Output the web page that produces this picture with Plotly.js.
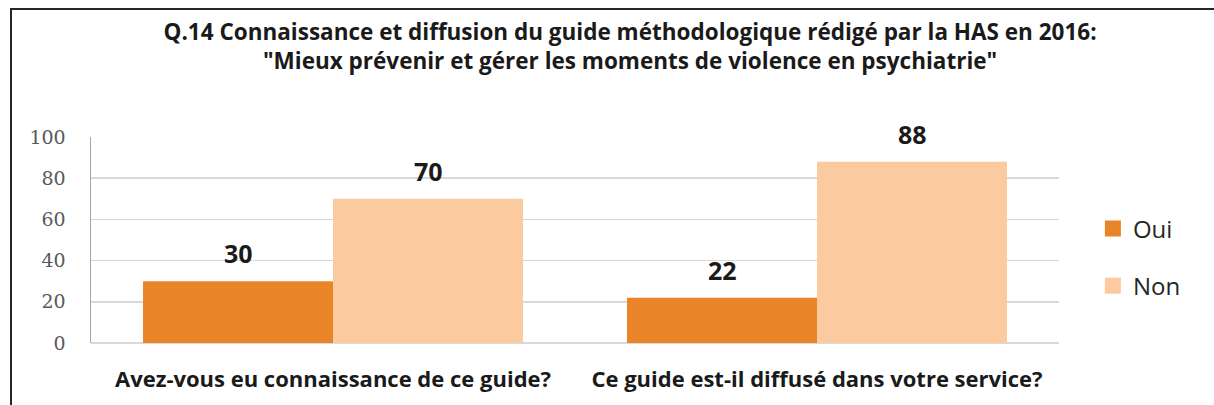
<!DOCTYPE html>
<html>
<head>
<meta charset="utf-8">
<script src="https://cdn.plot.ly/plotly-3.0.1.min.js"></script>
<style>
  html, body { margin: 0; padding: 0; background: #fff; }
  #wrap { position: relative; width: 1214px; height: 405px; overflow: hidden; }
  #chart { position: absolute; left: 0; top: 0; width: 1214px; height: 405px; }
  #frame { position: absolute; left: 10px; top: 8px; width: 1230px; height: 420px;
           border-top: 2px solid #262626; border-left: 2px solid #262626; pointer-events: none; }
</style>
</head>
<body>
<div id="wrap">
  <div id="chart"></div>
  <div id="frame"></div>
</div>
<script>
const categories = ["Avez-vous eu connaissance de ce guide?", "Ce guide est-il diffusé dans votre service?"];
const seriesNames = ["Oui", "Non"];
const ouiValues = [30, 22];
const nonValues = [70, 88];
const yTicks = [0, 20, 40, 60, 80, 100];
const colors = ["#EA8428", "#FBCA9F"];

const titleText = "Q.14 Connaissance et diffusion du guide méthodologique rédigé par la HAS en 2016:<br>\"Mieux prévenir et gérer les moments de violence en psychiatrie\"";

const allValues = [ouiValues, nonValues];
const traces = allValues.map((vals, i) => ({
  type: "bar",
  name: seriesNames[i],
  x: categories,
  y: vals,
  marker: { color: colors[i], line: { width: 0 } },
  showlegend: false,
  hoverinfo: "skip"
}));
// legend entries (square markers)
seriesNames.forEach((n, i) => {
  traces.push({
    type: "scatter", mode: "markers", name: n,
    x: [null], y: [null],
    marker: { symbol: "square", size: 17, color: colors[i] },
    legendgroup: "g" + i, showlegend: true, hoverinfo: "skip"
  });
});

const annotations = [];
allValues.forEach((vals, i) => {
  vals.forEach((v, j) => {
    annotations.push({
      x: categories[j], y: v, xref: "x", yref: "y",
      xshift: (i === 0 ? -1 : 1) * 95,
      yshift: 28,
      text: String(v), showarrow: false,
      yanchor: "middle", xanchor: "center",
      font: { family: "Open Sans, sans-serif", size: 25, color: "#1a1a1a", weight: 700 }
    });
  });
});

const layout = {
  width: 1214, height: 405,
  margin: { l: 91, r: 155, t: 137, b: 62, pad: 0 },
  paper_bgcolor: "rgba(0,0,0,0)",
  plot_bgcolor: "#ffffff",
  barmode: "group",
  bargap: 0.215,
  bargroupgap: 0,
  title: {
    text: titleText,
    font: { family: "Open Sans, sans-serif", size: 22.5, color: "#1a1a1a", weight: 700 },
    x: 0.519, xanchor: "center", xref: "container",
    y: 0.902, yanchor: "top", yref: "container"
  },
  xaxis: {
    type: "category",
    showgrid: false,
    showline: false,
    zeroline: false,
    ticks: "",
    tickfont: { family: "Open Sans, sans-serif", size: 22, color: "#1a1a1a", weight: 700 },
    ticklabelstandoff: 21
  },
  yaxis: {
    range: [0, 100],
    tickvals: yTicks,
    ticktext: yTicks.map(String),
    showgrid: true,
    gridcolor: "#D9D9D9",
    gridwidth: 1.5,
    zeroline: true,
    zerolinecolor: "#D9D9D9",
    zerolinewidth: 1.5,
    showline: true,
    linecolor: "#A6A6A6",
    linewidth: 1.5,
    ticks: "",
    ticklabelstandoff: 20,
    tickfont: { family: "DejaVu Serif, serif", size: 19, color: "#595959" }
  },
  legend: {
    x: 1.035, xanchor: "left",
    y: 0.415, yanchor: "middle",
    traceorder: "grouped",
    tracegroupgap: 23,
    itemsizing: "trace",
    font: { family: "Open Sans, sans-serif", size: 24, color: "#262626" },
    bgcolor: "rgba(0,0,0,0)"
  },
  showlegend: true,
  annotations: annotations
};

Plotly.newPlot("chart", traces, layout, { staticPlot: true, displayModeBar: false });
</script>
</body>
</html>
